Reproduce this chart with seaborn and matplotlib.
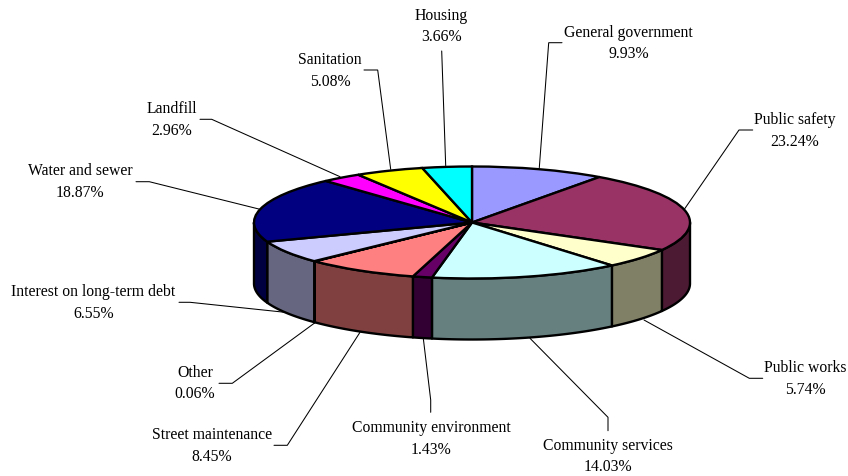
import numpy as np
import matplotlib
matplotlib.use("Agg")
import matplotlib.pyplot as plt
import seaborn as sns

sns.set_theme(style="white")
plt.rcParams["font.family"] = ["Liberation Serif", "DejaVu Serif"]

# Share of spending by function, clockwise from twelve o'clock
categories = [
    "General government", "Public safety", "Public works", "Community services",
    "Community environment", "Street maintenance", "Other",
    "Interest on long-term debt", "Water and sewer", "Landfill", "Sanitation", "Housing",
]
shares = [9.93, 23.24, 5.74, 14.03, 1.43, 8.45, 0.06, 6.55, 18.87, 2.96, 5.08, 3.66]
slice_colors = [
    "#9999FF", "#993366", "#FFFFCC", "#CCFFFF", "#660066", "#FF8080",
    "#0066CC", "#CCCCFF", "#000080", "#FF00FF", "#FFFF00", "#00FFFF",
]

# Label centres in pixels, measured from the top-left corner
label_x = [628.5, 795, 805.5, 608, 431, 212, 195, 93.5, 80, 172, 330, 441]
label_y = [42.5, 130, 378, 455.5, 438, 445, 382.5, 302, 181, 119, 70, 25.5]

# Leader polylines in pixels: from the label elbow to the rim of the disc
leader_paths = [
    [(562, 42.7), (548.7, 42.7), (539.3, 167.7)],
    [(752.7, 130), (739, 130), (684.3, 209.3)],
    [(762.7, 378.3), (749.3, 378.3), (644, 320)],
    [(608, 430.7), (608, 417.3), (530, 338.3)],
    [(430.7, 412.3), (430.7, 400), (423.3, 338.3)],
    [(274, 445.3), (287.3, 445.3), (360, 332.3)],
    [(219, 383.3), (232.3, 383.3), (315, 322.7)],
    [(179, 302.3), (190, 302.3), (285, 312.3)],
    [(136, 181.7), (149.3, 181.7), (260, 209.3)],
    [(200, 119.3), (211.7, 119.3), (340, 176.7)],
    [(364, 70), (377.7, 70), (390.7, 169.3)],
    [(441.7, 51), (445.7, 165.7)],
]

WIDTH, HEIGHT = 848, 476
CENTER_X, CENTER_Y = 472.0, 222.5
RADIUS_X, RADIUS_Y = 218.0, 56.0
DEPTH = 61.0 / RADIUS_Y
EDGE = 1.7

fig = plt.figure(figsize=(WIDTH / 100, HEIGHT / 100), dpi=100, facecolor="white")
ax = fig.add_axes([0, 0, 1, 1])
palette = sns.color_palette(slice_colors)

# The top of the disc is an ordinary pie squashed by unequal axis scales
ax.pie(
    shares, colors=palette, startangle=90, counterclock=False, radius=1.0,
    wedgeprops={"edgecolor": "black", "linewidth": EDGE, "zorder": 3},
)
ax.set_aspect("auto")
ax.set_xlim(-CENTER_X / RADIUS_X, (WIDTH - CENTER_X) / RADIUS_X)
ax.set_ylim((CENTER_Y - HEIGHT) / RADIUS_Y, CENTER_Y / RADIUS_Y)
ax.set_axis_off()

# Side wall: only the front half of the rim shows, in a darker shade of each slice
bounds = np.concatenate([[0.0], np.cumsum(shares)]) / sum(shares) * 360.0
for start, stop, color in zip(bounds[:-1], bounds[1:], palette):
    lo, hi = max(start, 90.0), min(stop, 270.0)
    if hi <= lo:
        continue
    t = np.radians(np.linspace(lo, hi, 80))
    xs = np.sin(t)
    ys = np.cos(t)
    shade = tuple(c * 0.5 for c in color)
    ax.fill(
        np.concatenate([xs, xs[::-1]]),
        np.concatenate([ys, ys[::-1] - DEPTH]),
        facecolor=shade, edgecolor="black", linewidth=EDGE, joinstyle="round", zorder=2,
    )

# Labels and leaders live on an overlay measured in pixels
overlay = fig.add_axes([0, 0, 1, 1], facecolor="none")
overlay.set_xlim(0, WIDTH)
overlay.set_ylim(HEIGHT, 0)
overlay.set_axis_off()

for path in leader_paths:
    px, py = zip(*path)
    overlay.plot(px, py, color="black", linewidth=0.75, solid_joinstyle="miter")

for name, share, x, y in zip(categories, shares, label_x, label_y):
    overlay.text(
        x, y + 1, f"{name}\n{share:.2f}%", ha="center", va="center",
        fontsize=11.3, color="black", linespacing=1.46,
    )

fig.savefig("out.png", dpi=100, facecolor="white")
